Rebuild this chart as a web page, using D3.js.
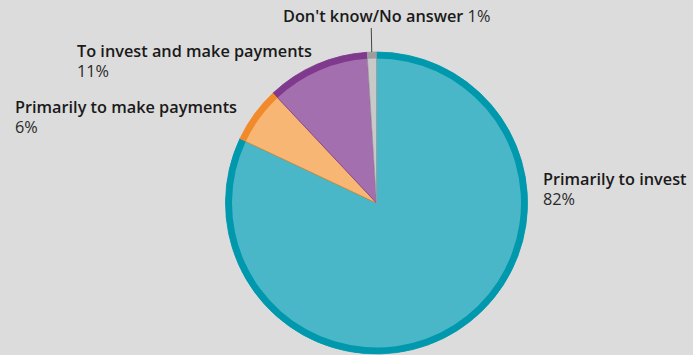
<!DOCTYPE html>
<html><head><meta charset="utf-8">
<script src="https://cdn.jsdelivr.net/npm/d3@7"></script>
<style>html,body{margin:0;padding:0;background:#dcdcdc;}svg{display:block;}</style>
</head><body>
<script>
const categories = ["Primarily to invest", "Primarily to make payments", "To invest and make payments", "Don't know/No answer"];
const values = [82, 6, 11, 1];
const fills = ["#4ab7c9", "#f8b675", "#a46fae", "#c9c9c9"];
const borders = ["#0098ad", "#f08a2a", "#7f3a8e", "#9d9d9d"];

const W = 693, H = 355;
const cx = 376.5, cy = 203, R = 151, bw = 6.5;
const svg = d3.select("body").append("svg").attr("width", W).attr("height", H);
svg.append("rect").attr("width", W).attr("height", H).attr("fill", "#dcdcdc");

const data = categories.map((c, i) => ({cat: c, value: values[i], i}));
const pie = d3.pie().value(d => d.value).sort(null);
const arcs = pie(data);
const g = svg.append("g").attr("transform", `translate(${cx},${cy})`);
const inner = d3.arc().innerRadius(0).outerRadius(R);
const ring = d3.arc().innerRadius(R - bw).outerRadius(R);

g.selectAll("path.fill").data(arcs).join("path").attr("class", "fill")
  .attr("d", inner).attr("fill", d => fills[d.data.i])
  .attr("stroke", d => borders[d.data.i]).attr("stroke-width", 0.8);
g.selectAll("path.ring").data(arcs).join("path").attr("class", "ring")
  .attr("d", ring).attr("fill", d => borders[d.data.i]);

const fontFamily = "'Open Sans', 'Noto Sans', sans-serif";
const fs = 16.3;
function label(x, y, title, pct) {
  const g2 = svg.append("g");
  g2.append("text").attr("x", x).attr("y", y)
    .attr("font-family", fontFamily).attr("font-size", fs).attr("fill", "#1a1a1a")
    .attr("font-weight", 600).text(title);
  g2.append("text").attr("x", x).attr("y", y + 20)
    .attr("font-family", fontFamily).attr("font-size", fs).attr("fill", "#2a2a2a")
    .attr("font-weight", 400).text(pct + "%");
}
label(543, 185, categories[0], values[0]);
label(15, 113, categories[1], values[1]);
label(77, 57, categories[2], values[2]);

const dk = svg.append("text").attr("x", 283).attr("y", 22)
  .attr("font-family", fontFamily).attr("font-size", fs).attr("fill", "#1a1a1a");
dk.append("tspan").text(categories[3]).attr("font-weight", 600);
dk.append("tspan").text(" " + values[3] + "%").attr("font-weight", 400).attr("fill", "#2a2a2a");

// leader line for the small slice
const a3 = arcs[3];
const mid = (a3.startAngle + a3.endAngle) / 2;
const px = cx + Math.sin(mid) * R, py = cy - Math.cos(mid) * R;
svg.append("line").attr("x1", px - 0.5).attr("y1", 28).attr("x2", px).attr("y2", py)
  .attr("stroke", "#444").attr("stroke-width", 1);
</script>
</body></html>
